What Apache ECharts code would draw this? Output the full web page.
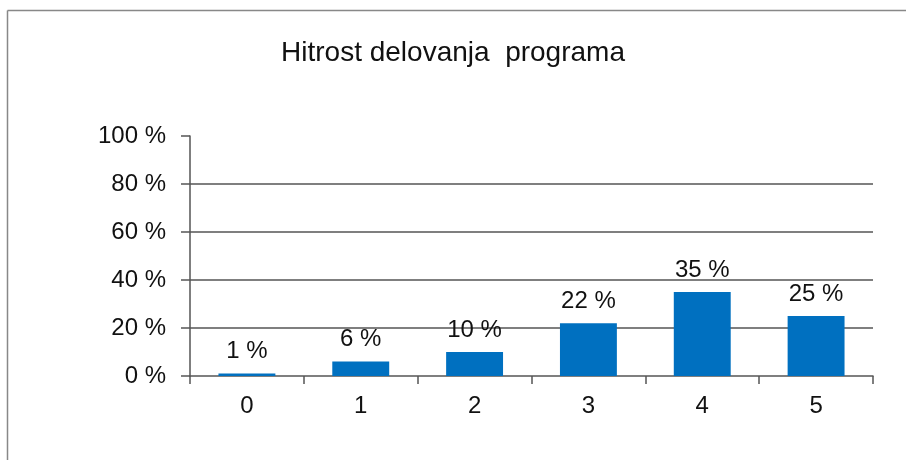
<!DOCTYPE html>
<html>
<head>
<meta charset="utf-8">
<script src="https://cdn.jsdelivr.net/npm/echarts@6/dist/echarts.min.js"></script>
<style>
html, body { margin: 0; padding: 0; background: #fff; overflow: hidden; }
#main { width: 906px; height: 460px; }
</style>
</head>
<body>
<div id="main"></div>
<script>
var categories = ['0', '1', '2', '3', '4', '5'];
var shares = [1, 6, 10, 22, 35, 25];
var yTicks = [0, 20, 40, 60, 80, 100];

var myChart = echarts.init(document.getElementById('main'));
var font = 'Liberation Sans, Arial, sans-serif';

option = {
    backgroundColor: '#fff',
    textStyle: { fontFamily: font },
    title: {
        text: 'Hitrost delovanja  programa',
        left: 'center',
        top: 34,
        textStyle: { fontFamily: font, fontSize: 28, fontWeight: 'normal', color: '#111' }
    },
    // frame: only the left and top edges are visible
    graphic: [{
        type: 'line',
        shape: { x1: 7.5, y1: 10.5, x2: 906, y2: 10.5 },
        style: { stroke: '#888', lineWidth: 1.5 },
        silent: true
    }, {
        type: 'line',
        shape: { x1: 7.5, y1: 10.5, x2: 7.5, y2: 460 },
        style: { stroke: '#888', lineWidth: 1.5 },
        silent: true
    }],
    grid: { left: 190, right: 33, top: 136, bottom: 84 },
    xAxis: {
        type: 'category',
        data: categories,
        axisLine: { lineStyle: { color: '#555', width: 1.5 } },
        axisTick: { show: true, length: 8, lineStyle: { color: '#555', width: 1.5 } },
        axisLabel: { margin: 18, fontSize: 24, color: '#111', fontFamily: font }
    },
    yAxis: {
        type: 'value',
        min: yTicks[0],
        max: yTicks[yTicks.length - 1],
        interval: 20,
        axisLine: { show: true, lineStyle: { color: '#555', width: 1.5 } },
        axisTick: { show: true, length: 9, lineStyle: { color: '#555', width: 1.5 } },
        axisLabel: {
            margin: 24, fontSize: 24, color: '#111', fontFamily: font,
            formatter: function (v) { return v + ' %'; }
        },
        splitLine: {
            show: true,
            showMinLine: false,
            showMaxLine: false,
            lineStyle: { color: '#555', width: 1.5 }
        }
    },
    series: [{
        type: 'bar',
        data: shares,
        barWidth: '50%',
        itemStyle: { color: '#0070C0' },
        label: {
            show: true,
            position: 'top',
            distance: 10,
            fontSize: 24,
            color: '#111',
            fontFamily: font,
            formatter: function (p) { return p.value + ' %'; }
        }
    }]
};

myChart.setOption(option);
</script>
</body>
</html>
